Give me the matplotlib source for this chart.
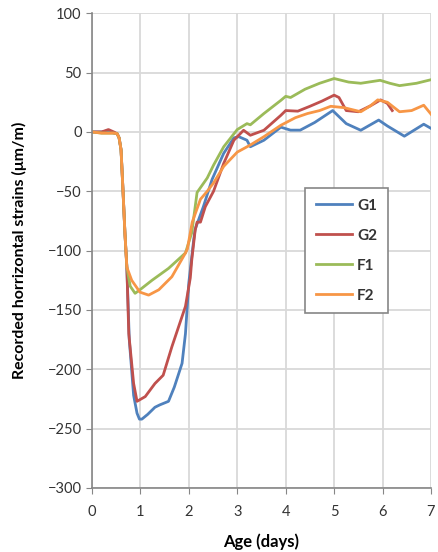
import numpy as np
import matplotlib
matplotlib.use('Agg')
import matplotlib.pyplot as plt

plt.rcParams['font.family'] = ['Lato', 'DejaVu Sans']

# strain records (age in days, strain in um/m)
g1_age = [0, 0.2, 0.34, 0.45, 0.52, 0.56, 0.6, 0.64, 0.68, 0.72, 0.77, 0.86, 0.93, 0.98, 1.03,
          1.15, 1.3, 1.4, 1.58, 1.7, 1.86, 1.93, 2.0, 2.1, 2.13, 2.3, 2.48, 2.72, 2.93, 3.03,
          3.2, 3.27, 3.55, 3.9, 4.1, 4.3, 4.6, 4.97, 5.25, 5.55, 5.92, 6.1, 6.45, 6.85, 7.0]
g1_val = [0, 0, 1, -1, -1.5, -5, -15, -49, -85, -114, -175, -222, -237, -242, -242,
          -238, -232, -230, -227, -215, -195, -170, -127, -91, -82, -63, -40, -18, -5, -4,
          -7, -12.5, -7, 4, 1.5, 1.5, 8, 18, 7, 1.4, 10, 5, -3.6, 6.5, 3]

g2_age = [0, 0.2, 0.34, 0.45, 0.52, 0.56, 0.6, 0.64, 0.68, 0.72, 0.76, 0.86, 0.93, 1.1,
          1.3, 1.47, 1.65, 1.93, 2.03, 2.06, 2.13, 2.17, 2.24, 2.34, 2.51, 2.72, 2.93, 3.13,
          3.27, 3.55, 3.9, 4.0, 4.25, 4.5, 4.75, 5.0, 5.1, 5.25, 5.5, 5.75, 5.96, 6.1, 6.2]
g2_val = [0, 0, 2, 0, -1.5, -5, -15, -49, -85, -114, -170, -212, -227, -223,
          -212, -205, -181, -147, -123, -108, -83, -76, -76, -63, -50, -26.5, -7, 1.4,
          -2.8, 1.4, 14, 18, 17.5, 21.6, 26, 31, 29, 18, 17, 22, 27, 24, 18]

f1_age = [0, 0.2, 0.38, 0.45, 0.52, 0.56, 0.6, 0.64, 0.68, 0.72, 0.79, 0.89, 0.99, 1.24,
          1.58, 1.93, 2.06, 2.17, 2.38, 2.51, 2.72, 3.0, 3.2, 3.27, 3.55, 3.9, 4.0, 4.1,
          4.4, 4.7, 5.0, 5.3, 5.55, 5.95, 6.15, 6.35, 6.7, 7.0]
f1_val = [0, -1, -1, -1, -1.5, -5, -15, -49, -85, -114, -130, -136, -133, -125,
          -115, -102, -85, -51, -38.8, -28, -12.5, 2, 7, 6, 15.5, 26.6, 30, 29,
          36, 41, 45, 42, 41, 43.5, 41, 39, 41, 44]

f2_age = [0, 0.2, 0.38, 0.45, 0.52, 0.56, 0.6, 0.64, 0.68, 0.72, 0.82, 0.99, 1.17, 1.38,
          1.65, 1.93, 1.97, 2.07, 2.24, 2.38, 2.51, 2.72, 3.0, 3.27, 3.55, 3.9, 4.2, 4.45,
          4.7, 4.93, 5.2, 5.55, 5.75, 5.9, 6.1, 6.35, 6.6, 6.85, 7.0]
f2_val = [0, -1, -1, -1, -1.5, -5, -15, -49, -85, -114, -125, -135, -137.5, -133,
          -122, -102, -98.6, -76, -56.7, -50, -43, -29, -17, -11, -4, 5.6, 12, 15.5,
          18, 21.6, 20.5, 17, 22, 27, 25, 17, 18, 22.5, 15]

fig = plt.figure(figsize=(4.38, 5.52), dpi=100)
ax = fig.add_axes([0.210, 0.116, 0.774, 0.860])

ax.plot(g1_age, g1_val, color='#4F81BD', lw=2, label='G1')
ax.plot(g2_age, g2_val, color='#C0504D', lw=2, label='G2')
ax.plot(f1_age, f1_val, color='#9BBB59', lw=2, label='F1')
ax.plot(f2_age, f2_val, color='#F79646', lw=2, label='F2')

ax.set_xlim(0, 7)
ax.set_ylim(-300, 100)
ax.set_xticks(np.arange(0, 8, 1))
ax.set_yticks(np.arange(-300, 101, 50))
ax.grid(True, color='#d9d9d9', lw=1.3)
ax.set_axisbelow(True)
for s in ['top', 'right']:
    ax.spines[s].set_visible(False)
for s in ['left', 'bottom']:
    ax.spines[s].set_color('#868686')
    ax.spines[s].set_linewidth(1.2)
ax.tick_params(direction='out', length=4, color='#868686', labelsize=10.5,
               labelcolor='#333333')
ax.tick_params(axis='x', pad=8)

ax.set_xlabel('Age (days)', fontsize=12, fontweight='bold')
ax.xaxis.set_label_coords(0.5, -0.095)
ax.set_ylabel('Recorded horrizontal strains (μm/m)', fontsize=11.5, fontweight='bold')
ax.yaxis.set_label_coords(-0.192, 0.5)

leg = ax.legend(loc='center', bbox_to_anchor=(0.572, 0.377, 0.357, 0.246),
                fancybox=False, edgecolor='#868686', framealpha=1,
                handlelength=2.4, labelspacing=1.05, fontsize=11,
                borderpad=0.7, handletextpad=0.3)
leg.get_frame().set_linewidth(1.2)
for t in leg.get_texts():
    t.set_fontweight('bold')
    t.set_color('#333333')

fig.savefig('out.png', dpi=100)
